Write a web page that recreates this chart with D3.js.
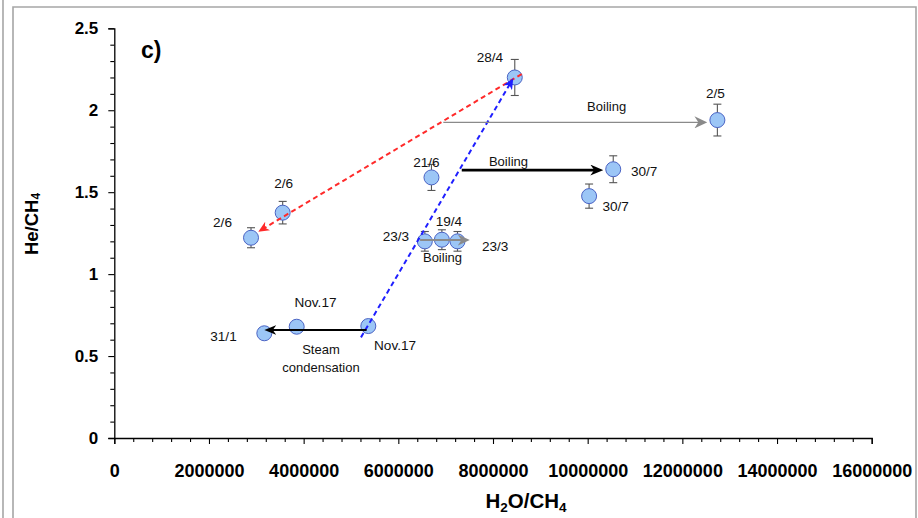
<!DOCTYPE html>
<html>
<head>
<meta charset="utf-8">
<script src="https://cdn.jsdelivr.net/npm/d3@7"></script>
<style>
  html, body { margin: 0; padding: 0; background: #fff; }
  svg { display: block; font-family: "Liberation Sans", Arial, sans-serif; }
</style>
</head>
<body>
<svg id="chart" width="918" height="518"></svg>
<script>
// Sample dates and ratios (H2O/CH4 on x, He/CH4 on y)
const sampleLabels = ["28/4", "2/5", "30/7", "30/7", "21/6", "23/3", "19/4", "23/3",
                      "2/6", "2/6", "Nov.17", "Nov.17", "31/1"];
const h2oCh4 = [8460000, 12740000, 10540000, 10030000, 6700000, 6560000, 6920000, 7250000,
                3557000, 2888000, 5366000, 3853000, 3169000];
const heCh4 = [2.20, 1.94, 1.64, 1.476, 1.59, 1.20, 1.21, 1.20,
               1.375, 1.222, 0.683, 0.679, 0.639];
// analytical uncertainty, 5 % of He/CH4
const heErr = heCh4.map(v => v * 0.05);

// Process arrows: start and end in data units
const arrowNames = ["mixRed", "mixBlue", "boilGrey", "boilBlack", "steam", "boilSmall"];
const arrowX0 = [8606000, 5211000, 6950000, 7340000, 5330000, 6460000];
const arrowY0 = [2.221, 0.614, 1.926, 1.635, 0.659, 1.208];
const arrowX1 = [3042000, 8428000, 12530000, 10330000, 3170000, 7510000];
const arrowY1 = [1.259, 2.195, 1.926, 1.635, 0.659, 1.208];

// Process annotations (data units of text baseline centre)
const noteText = ["Boiling", "Boiling", "Boiling", "Steam", "condensation"];
const noteX = [10400000, 8327000, 6933000, 4366000, 4366000];
const noteY = [1.995, 1.661, 1.076, 0.511, 0.405];

// Axis ticks
const xMajor = [0, 2000000, 4000000, 6000000, 8000000, 10000000, 12000000, 14000000, 16000000];
const yMajor = [0, 0.5, 1, 1.5, 2, 2.5];

const svg = d3.select("#chart");

// page frame
const frame = svg.append("g").attr("stroke", "#a6a6a6").attr("stroke-width", 1.6).attr("fill", "none");
frame.append("line").attr("x1", 3).attr("y1", 0).attr("x2", 3).attr("y2", 518);
frame.append("path").attr("d", "M13,518 L13,7 L916,7 L916,518");

const x = d3.scaleLinear().domain([0, 16000000]).range([114.3, 871.7]);
const y = d3.scaleLinear().domain([0, 2.5]).range([438, 28.3]);

// minor ticks
const xMinor = d3.range(0, 16000001, 400000).filter(v => v % 2000000 !== 0);
const yMinor = d3.range(0, 26).map(i => i / 10).filter(v => Math.abs(v * 2 - Math.round(v * 2)) > 1e-6);

const xAxisG = svg.append("g").attr("transform", `translate(0,${y(0)})`)
  .call(d3.axisBottom(x).tickValues(xMajor).tickSize(6).tickPadding(20).tickFormat(d3.format("d")));
svg.append("g").attr("transform", `translate(0,${y(0)})`)
  .call(d3.axisBottom(x).tickValues(xMinor).tickSize(4).tickFormat(""))
  .select(".domain").remove();
const yAxisG = svg.append("g").attr("transform", `translate(${x(0)},0)`)
  .call(d3.axisLeft(y).tickValues(yMajor).tickSize(6).tickPadding(10).tickFormat(d => String(d)));
svg.append("g").attr("transform", `translate(${x(0)},0)`)
  .call(d3.axisLeft(y).tickValues(yMinor).tickSize(4).tickFormat(""))
  .select(".domain").remove();

svg.selectAll(".domain").attr("stroke", "#000").attr("stroke-width", 1.3);
svg.selectAll(".tick line").attr("stroke", "#000").attr("stroke-width", 1.1);
xAxisG.selectAll("text").attr("font-size", 18).attr("font-weight", "bold")
  .attr("font-family", "Liberation Sans, Arial, sans-serif").attr("fill", "#000");
yAxisG.selectAll("text").attr("font-size", 17).attr("font-weight", "bold")
  .attr("font-family", "Liberation Sans, Arial, sans-serif").attr("fill", "#000");

// axis titles
const xt = svg.append("text").attr("x", 526).attr("y", 508).attr("text-anchor", "middle")
  .attr("font-size", 20.5).attr("font-weight", "bold");
xt.append("tspan").text("H");
xt.append("tspan").attr("font-size", 13.5).attr("dy", 4).text("2");
xt.append("tspan").attr("dy", -4).text("O/CH");
xt.append("tspan").attr("font-size", 13.5).attr("dy", 4).text("4");

const yt = svg.append("text").attr("transform", "translate(38,224) rotate(-90)")
  .attr("text-anchor", "middle").attr("font-size", 18.5).attr("font-weight", "bold");
yt.append("tspan").text("He/CH");
yt.append("tspan").attr("font-size", 12).attr("dy", 2).text("4");

// panel tag
svg.append("text").attr("x", 141).attr("y", 58).attr("font-size", 23).attr("font-weight", "bold").text("c)");

// error bars
const pts = sampleLabels.map((lab, i) => ({lab, xv: h2oCh4[i], yv: heCh4[i], e: heErr[i]}));
const eb = svg.append("g").attr("stroke", "#555").attr("stroke-width", 1.1);
pts.forEach(p => {
  const cx = x(p.xv), top = y(p.yv + p.e), bot = y(p.yv - p.e);
  eb.append("line").attr("x1", cx).attr("x2", cx).attr("y1", top).attr("y2", bot);
  eb.append("line").attr("x1", cx - 4).attr("x2", cx + 4).attr("y1", top).attr("y2", top);
  eb.append("line").attr("x1", cx - 4).attr("x2", cx + 4).attr("y1", bot).attr("y2", bot);
});

// points
svg.append("g").selectAll("circle").data(pts).join("circle")
  .attr("cx", d => x(d.xv)).attr("cy", d => y(d.yv)).attr("r", 7.5)
  .attr("fill", "#9cc6f6").attr("stroke", "#4a63c4").attr("stroke-width", 1);

// sample labels, offset from each point
const labelOffsets = [[-11.6, -15, "end"], [-2, -22, "middle"], [17.7, 6.4, "start"], [13.3, 14.7, "start"],
  [-5, -10, "middle"], [-15.7, 0, "end"], [7, -14, "middle"], [24.4, 10, "start"],
  [1, -24.4, "middle"], [-28.5, -11, "middle"], [5.7, 24, "start"], [18.8, -20, "middle"], [-27.6, 7.7, "end"]];
svg.append("g").selectAll("text").data(pts).join("text")
  .attr("x", (d, i) => x(d.xv) + labelOffsets[i][0])
  .attr("y", (d, i) => y(d.yv) + labelOffsets[i][1])
  .attr("text-anchor", (d, i) => labelOffsets[i][2])
  .attr("font-size", 13.6).attr("fill", "#111").text(d => d.lab);

// arrowhead markers
const defs = svg.append("defs");
function marker(id, color, len, wid) {
  defs.append("marker").attr("id", id).attr("markerUnits", "userSpaceOnUse")
    .attr("viewBox", `0 0 ${len} ${wid}`).attr("markerWidth", len).attr("markerHeight", wid)
    .attr("refX", len * 0.5).attr("refY", wid / 2).attr("orient", "auto")
    .append("path").attr("d", `M0,0 L${len},${wid / 2} L0,${wid} L${len * 0.3},${wid / 2} Z`).attr("fill", color);
}
const arrowStyle = {
  mixRed: {color: "#ff2a2a", w: 2, dash: "5,3.5", len: 11, wid: 10},
  mixBlue: {color: "#1f1fff", w: 2, dash: "5,3.5", len: 11, wid: 10},
  boilGrey: {color: "#8a8a8a", w: 1.4, dash: null, len: 13, wid: 12},
  boilBlack: {color: "#000", w: 2.8, dash: null, len: 13, wid: 11},
  steam: {color: "#000", w: 2, dash: null, len: 12, wid: 10},
  boilSmall: {color: "#8a8a8a", w: 2, dash: null, len: 12, wid: 11}
};
arrowNames.forEach(n => { const s = arrowStyle[n]; marker("m-" + n, s.color, s.len, s.wid); });

const ag = svg.append("g");
arrowNames.forEach((n, i) => {
  const s = arrowStyle[n];
  const px0 = x(arrowX0[i]), py0 = y(arrowY0[i]), px1 = x(arrowX1[i]), py1 = y(arrowY1[i]);
  const L = Math.hypot(px1 - px0, py1 - py0);
  const ux = (px1 - px0) / L, uy = (py1 - py0) / L;
  const back = s.len * 0.5;
  const line = ag.append("line").attr("x1", px0).attr("y1", py0)
    .attr("x2", px1 - ux * back).attr("y2", py1 - uy * back)
    .attr("stroke", s.color).attr("stroke-width", s.w)
    .attr("marker-end", `url(#m-${n})`);
  if (s.dash) line.attr("stroke-dasharray", s.dash);
});

// process annotations
svg.append("g").selectAll("text").data(noteText).join("text")
  .attr("x", (d, i) => x(noteX[i])).attr("y", (d, i) => y(noteY[i]))
  .attr("text-anchor", "middle").attr("font-size", 13).attr("fill", "#111").text(d => d);
</script>
</body>
</html>
